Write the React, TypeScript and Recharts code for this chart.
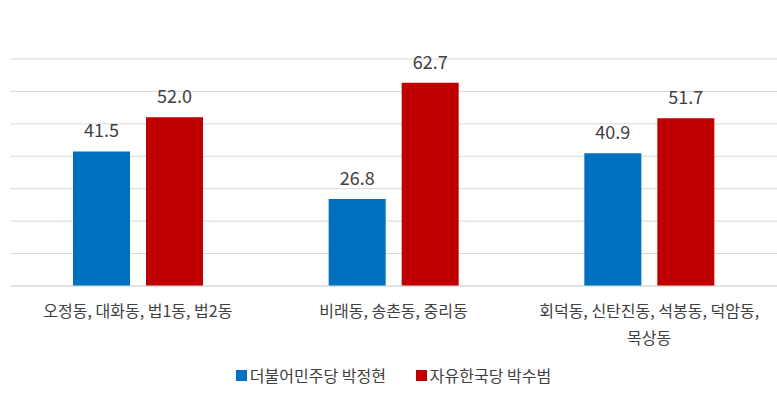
import React from 'react';
import { BarChart, Bar, XAxis, YAxis, CartesianGrid, Legend, LabelList } from 'recharts';

const categories = ['오정동, 대화동, 법1동, 법2동', '비래동, 송촌동, 중리동', '회덕동, 신탄진동, 석봉동, 덕암동,\n목상동'];
const parkJunghyun = [41.5, 26.8, 40.9];
const parkSubeom = [52.0, 62.7, 51.7];
const seriesNames = ['더불어민주당 박정현', '자유한국당 박수범'];
const yTicks = [0, 10, 20, 30, 40, 50, 60, 70];

const COLORS = ['#0070C0', '#C00000'];
const FONT = '"Noto Sans CJK KR", "Noto Sans", sans-serif';

const data = categories.map((name, i) => ({ name, a: parkJunghyun[i], b: parkSubeom[i] }));

const CategoryTick = (props: any) => {
  const { x, y, payload } = props;
  const lines = String(payload.value).split('\n');
  return (
    <text x={x} y={y} textAnchor="middle" fill="#404040" fontSize={16} fontFamily={FONT}>
      {lines.map((line, i) => (
        <tspan key={i} x={x} dy={i === 0 ? 23 : 27}>{line}</tspan>
      ))}
    </text>
  );
};

const LegendContent = () => (
  <div style={{ display: 'flex', justifyContent: 'center', gap: 30, fontFamily: FONT, fontSize: 16, color: '#404040', paddingTop: 4 }}>
    {seriesNames.map((n, i) => (
      <span key={n} style={{ display: 'flex', alignItems: 'center' }}>
        <span style={{ width: 11, height: 11, background: COLORS[i], marginRight: 3, display: 'inline-block' }} />
        {n}
      </span>
    ))}
  </div>
);

export default function App() {
  return (
    <div style={{ position: 'absolute', left: 0, top: 0, width: 777, height: 399, background: '#fff' }}>
      <BarChart width={777} height={399} data={data} margin={{ top: 59, right: 0, left: 10, bottom: 0 }} barGap={16}>
        <CartesianGrid vertical={false} stroke="#d9d9d9" />
        <YAxis hide domain={[0, 70]} ticks={yTicks} />
        <XAxis dataKey="name" height={73} tickLine={false} axisLine={{ stroke: '#d9d9d9' }} tick={<CategoryTick />} interval={0} />
        <Legend verticalAlign="bottom" height={40} content={<LegendContent />} />
        <Bar dataKey="a" name={seriesNames[0]} fill={COLORS[0]} barSize={57} isAnimationActive={false}>
          <LabelList dataKey="a" position="top" offset={14} formatter={(v: any) => Number(v).toFixed(1)} fill="#404040" fontSize={18} fontFamily={FONT} />
        </Bar>
        <Bar dataKey="b" name={seriesNames[1]} fill={COLORS[1]} barSize={57} isAnimationActive={false}>
          <LabelList dataKey="b" position="top" offset={14} formatter={(v: any) => Number(v).toFixed(1)} fill="#404040" fontSize={18} fontFamily={FONT} />
        </Bar>
      </BarChart>
    </div>
  );
}
